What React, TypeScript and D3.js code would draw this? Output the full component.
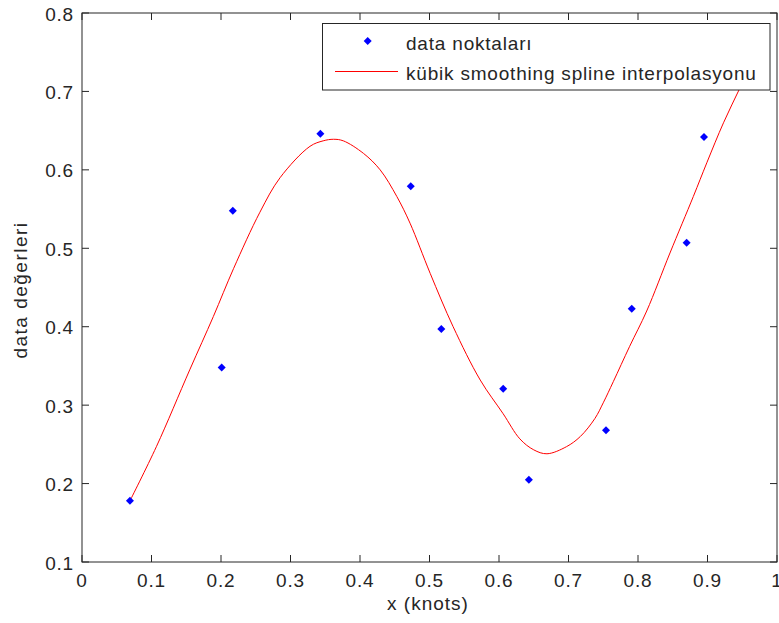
import React from "react";
import * as d3 from "d3";

const dataX = [0.069, 0.201, 0.217, 0.343, 0.473, 0.517, 0.606, 0.643, 0.754, 0.791, 0.870, 0.895];
const dataY = [0.178, 0.348, 0.548, 0.646, 0.579, 0.397, 0.321, 0.205, 0.268, 0.423, 0.507, 0.642];

const curveX = [0.069, 0.107, 0.155, 0.189, 0.218, 0.256, 0.285, 0.328, 0.347, 0.362, 0.376, 0.405, 0.429, 0.453, 0.472, 0.501, 0.534, 0.573, 0.606, 0.630, 0.650, 0.669, 0.697, 0.717, 0.738, 0.750, 0.7645, 0.788, 0.8125, 0.846, 0.8796, 0.899, 0.923, 0.947, 0.970];
const curveY = [0.178, 0.247, 0.345, 0.413, 0.474, 0.546, 0.590, 0.630, 0.637, 0.639, 0.637, 0.621, 0.600, 0.566, 0.532, 0.468, 0.400, 0.332, 0.289, 0.257, 0.243, 0.238, 0.247, 0.260, 0.283, 0.303, 0.330, 0.375, 0.420, 0.494, 0.566, 0.609, 0.660, 0.705, 0.748];

const xTicks = [0, 0.1, 0.2, 0.3, 0.4, 0.5, 0.6, 0.7, 0.8, 0.9, 1];
const yTicks = [0.1, 0.2, 0.3, 0.4, 0.5, 0.6, 0.7, 0.8];
const legendLabels = ["data noktaları", "kübik smoothing spline interpolasyonu"];

const W = 779, H = 623;
const L = 82, R = 777, T = 13, B = 562;
const FONT = "'Liberation Sans', Arial, sans-serif";
const AX = "#262626";
const FS = 19;
const LS = 0.8;

export default function App() {
  const x = d3.scaleLinear().domain([0, 1]).range([L, R]);
  const y = d3.scaleLinear().domain([0.1, 0.8]).range([B, T]);
  const line = d3
    .line<number>()
    .x((_, i) => x(curveX[i]))
    .y((_, i) => y(curveY[i]))
    .curve(d3.curveCatmullRom.alpha(0.5));
  const pathD = line(curveX) || "";
  const diamond = "M0,-4L4,0L0,4L-4,0Z";
  const tl = 7;

  return (
    <svg width={W} height={H} style={{ position: "absolute", left: 0, top: 0, background: "#fff" }}>
      <defs>
        <clipPath id="clip">
          <rect x={L} y={T} width={R - L} height={B - T} />
        </clipPath>
      </defs>
      <rect x={0} y={0} width={W} height={H} fill="#fff" />
      <g clipPath="url(#clip)">
        <path d={pathD} fill="none" stroke="#ff0000" strokeWidth={1} />
        {dataX.map((d, i) => (
          <path key={i} d={diamond} transform={`translate(${x(d)},${y(dataY[i])})`} fill="#0000ff" />
        ))}
      </g>
      <rect x={L} y={T} width={R - L} height={B - T} fill="none" stroke={AX} strokeWidth={1} />
      {xTicks.map((t, i) => (
        <g key={"x" + i}>
          <line x1={x(t)} x2={x(t)} y1={B} y2={B - tl} stroke={AX} />
          <line x1={x(t)} x2={x(t)} y1={T} y2={T + tl} stroke={AX} />
          <text x={x(t)} y={587} textAnchor="middle" fontFamily={FONT} fontSize={FS} letterSpacing={LS} fill={AX}>
            {String(t)}
          </text>
        </g>
      ))}
      {yTicks.map((t, i) => (
        <g key={"y" + i}>
          <line x1={L} x2={L + tl} y1={y(t)} y2={y(t)} stroke={AX} />
          <line x1={R} x2={R - tl} y1={y(t)} y2={y(t)} stroke={AX} />
          <text x={74} y={y(t) + 7.5} textAnchor="end" fontFamily={FONT} fontSize={FS} letterSpacing={LS} fill={AX}>
            {String(t)}
          </text>
        </g>
      ))}
      <text x={428} y={610} textAnchor="middle" fontFamily={FONT} fontSize={FS} letterSpacing={1} fill={AX}>
        x (knots)
      </text>
      <text
        transform={`translate(27,290) rotate(-90)`}
        textAnchor="middle"
        fontFamily={FONT}
        fontSize={FS}
        letterSpacing={1.5}
        fill={AX}
      >
        data değerleri
      </text>
      <rect x={322.5} y={23.5} width={447.5} height={66.5} fill="#fff" stroke={AX} strokeWidth={1} />
      <path d={diamond} transform={`translate(367.7,41)`} fill="#0000ff" />
      <line x1={335} x2={398} y1={71.5} y2={71.5} stroke="#ff0000" strokeWidth={1} />
      <text x={406} y={50} fontFamily={FONT} fontSize={FS} letterSpacing={LS} fill={AX}>
        {legendLabels[0]}
      </text>
      <text x={406} y={80} fontFamily={FONT} fontSize={FS} letterSpacing={LS} fill={AX}>
        {legendLabels[1]}
      </text>
    </svg>
  );
}
